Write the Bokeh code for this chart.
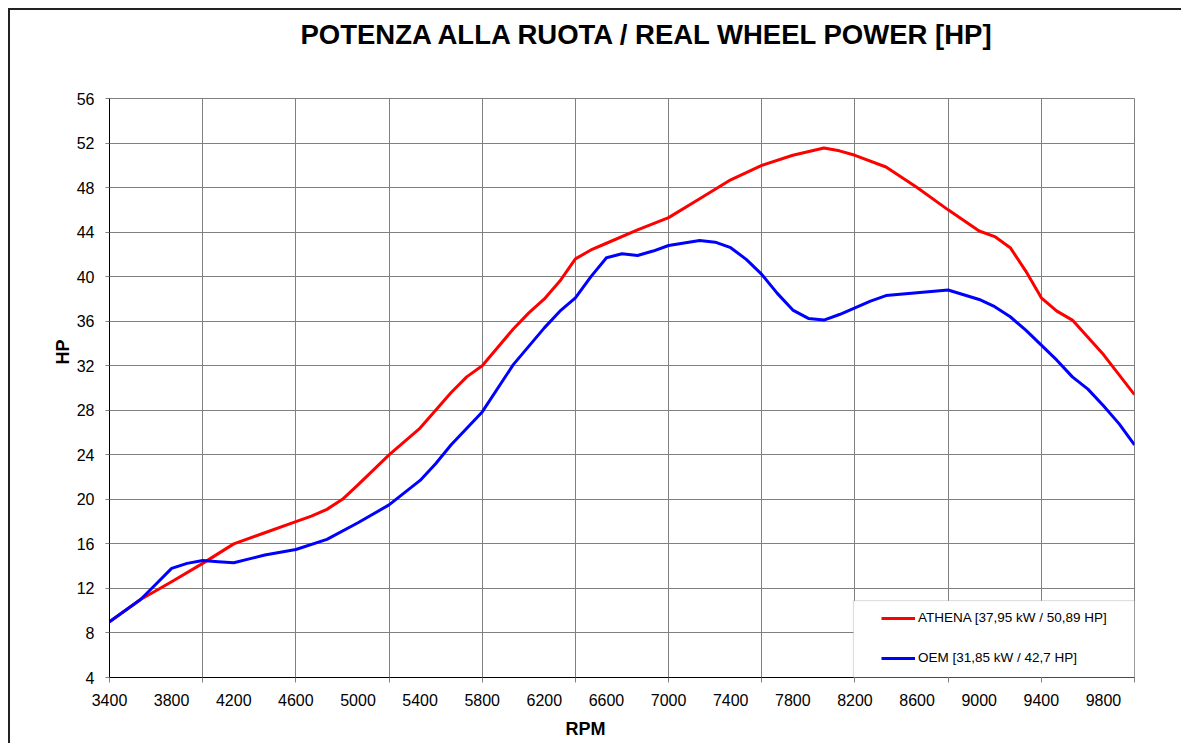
from bokeh.plotting import figure
from bokeh.models import FixedTicker, BoxAnnotation, Legend, LegendItem, Range1d, Title
from bokeh.embed import file_html
from bokeh.resources import INLINE

# ---- data ----
athena_rpm = [3400, 3600, 3800, 4000, 4200, 4400, 4600, 4700, 4800, 4900, 5000, 5200,
              5400, 5500, 5600, 5700, 5800, 6000, 6100, 6200, 6300, 6400, 6500, 6600,
              6800, 7000, 7200, 7400, 7600, 7800, 8000, 8100, 8200, 8400, 8600, 8800,
              9000, 9100, 9200, 9300, 9400, 9500, 9600, 9800, 10000]
athena_hp = [9.0, 11.0, 12.6, 14.25, 16.0, 17.0, 18.0, 18.5, 19.1, 20.0, 21.3, 24.0,
             26.4, 28.0, 29.6, 31.0, 32.0, 35.3, 36.75, 38.0, 39.6, 41.6, 42.4, 43.0,
             44.2, 45.3, 47.0, 48.7, 50.0, 50.9, 51.55, 51.3, 50.9, 49.85, 48.0, 46.0,
             44.1, 43.6, 42.6, 40.5, 38.1, 36.9, 36.1, 33.0, 29.4]
oem_rpm = [3400, 3600, 3700, 3800, 3900, 4000, 4100, 4200, 4300, 4400, 4600, 4800,
           5000, 5200, 5400, 5500, 5600, 5800, 6000, 6200, 6300, 6400, 6500, 6600,
           6700, 6800, 6900, 7000, 7200, 7300, 7400, 7500, 7600, 7700, 7800, 7900,
           8000, 8100, 8200, 8300, 8400, 8600, 8800, 9000, 9100, 9200, 9300, 9400,
           9500, 9600, 9700, 9800, 9900, 10000]
oem_hp = [9.0, 11.0, 12.4, 13.8, 14.25, 14.5, 14.4, 14.3, 14.65, 15.0, 15.5, 16.4,
          17.9, 19.5, 21.7, 23.2, 24.9, 27.85, 32.1, 35.4, 36.9, 38.1, 40.0, 41.7,
          42.05, 41.9, 42.3, 42.8, 43.25, 43.1, 42.6, 41.55, 40.2, 38.5, 37.0, 36.25,
          36.1, 36.6, 37.2, 37.8, 38.3, 38.55, 38.8, 37.95, 37.3, 36.4, 35.2, 33.85,
          32.5, 31.0, 29.9, 28.4, 26.8, 24.9]
series_names = ["ATHENA [37,95 kW / 50,89 HP]", "OEM [31,85 kW / 42,7 HP]"]
x_label_ticks = [3400, 3800, 4200, 4600, 5000, 5400, 5800, 6200, 6600, 7000,
                 7400, 7800, 8200, 8600, 9000, 9400, 9800]
x_grid_ticks = [3400, 4000, 4600, 5200, 5800, 6400, 7000, 7600, 8200, 8800, 9400, 10000]
y_ticks = [4, 8, 12, 16, 20, 24, 28, 32, 36, 40, 44, 48, 52, 56]
title_text = "POTENZA ALLA RUOTA / REAL WHEEL POWER [HP]"
x_title = "RPM"
y_title = "HP"

FONT = "Liberation Sans"
GRID = "#808080"

p = figure(width=1174, height=736, output_backend="svg", toolbar_location=None,
           x_range=Range1d(3400, 10000), y_range=Range1d(4, 56),
           min_border_left=99, min_border_right=50, min_border_top=88,
           min_border_bottom=68,
           styles={"margin-left": "10px", "margin-top": "10px",
                   "margin-bottom": "-20px", "margin-right": "-20px",
                   "box-shadow": "-2px -2px 0px 0px #222222",
                   "clip-path": "inset(-10px 3px -10px -10px)"})
p.title = None
p.background_fill_color = "white"
p.border_fill_color = "white"
p.outline_line_color = GRID
p.outline_line_width = 1

# title (spacer title keeps the main title well above the frame)
p.add_layout(Title(text=" ", text_font_size="10px", standoff=31), "above")
p.add_layout(Title(text=title_text, align="left", offset=191, standoff=10,
                   text_font=FONT, text_font_size="27.5px", text_font_style="bold",
                   text_color="black"), "above")

# grids
p.xgrid.ticker = FixedTicker(ticks=x_grid_ticks)
p.ygrid.ticker = FixedTicker(ticks=y_ticks)
p.xgrid.grid_line_color = GRID
p.ygrid.grid_line_color = GRID
p.xgrid.grid_line_width = 1
p.ygrid.grid_line_width = 1

# x axis
xa = p.xaxis[0]
xa.ticker = FixedTicker(ticks=x_label_ticks, minor_ticks=x_grid_ticks)
xa.axis_line_color = "black"
xa.major_tick_out = 0
xa.major_tick_in = 0
xa.minor_tick_out = 5
xa.minor_tick_in = 0
xa.minor_tick_line_color = GRID
xa.major_label_standoff = 11
xa.major_label_text_font = FONT
xa.major_label_text_font_size = "16px"
xa.major_label_text_color = "black"

# y axis
ya = p.yaxis[0]
ya.ticker = FixedTicker(ticks=y_ticks)
ya.axis_line_color = "black"
ya.major_tick_out = 4
ya.major_tick_in = 0
ya.major_tick_line_color = GRID
ya.minor_tick_line_color = None
ya.major_label_standoff = 11
ya.major_label_text_font = FONT
ya.major_label_text_font_size = "16px"
ya.major_label_text_color = "black"

# axis titles
p.add_layout(Title(text=y_title, align="left", offset=313, standoff=2,
                   text_font=FONT, text_font_size="18px", text_font_style="bold",
                   text_color="black"), "left")
p.add_layout(Title(text=x_title, align="left", offset=456, standoff=16,
                   text_font=FONT, text_font_size="18px", text_font_style="bold",
                   text_color="black"), "below")

# curves
r1 = p.line(athena_rpm, athena_hp, line_color="#ff0000", line_width=3, line_join="round")
r2 = p.line(oem_rpm, oem_hp, line_color="#0000ff", line_width=3, line_join="round")

# legend box
box = BoxAnnotation(left=8190, right=10000, bottom=4, top=10.9,
                    fill_color="white", fill_alpha=1.0,
                    line_color=GRID, line_width=1)
p.add_layout(box)

legend = Legend(items=[LegendItem(label=series_names[0], renderers=[r1]),
                       LegendItem(label=series_names[1], renderers=[r2])],
                location=(772, 12), padding=0, margin=0, spacing=25,
                glyph_width=34, glyph_height=14, label_height=14,
                label_standoff=3, label_text_font=FONT,
                label_text_font_size="13.5px", label_text_color="black",
                border_line_alpha=0, background_fill_alpha=0)
p.add_layout(legend)

open("out.html", "w").write(file_html(p, INLINE))
